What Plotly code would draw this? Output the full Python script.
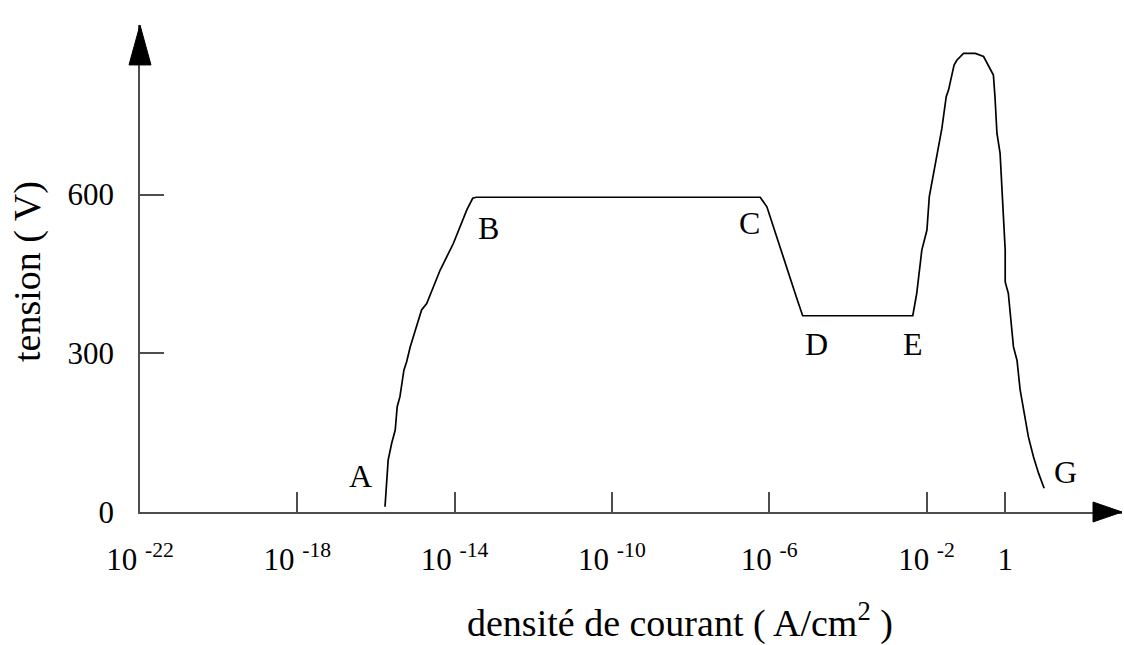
import plotly.graph_objects as go

# Current density (log10 of A/cm^2) and voltage (V) along the characteristic A-B-C-D-E-F-G
log_j = [
    -15.77, -15.74, -15.69, -15.60, -15.51, -15.46, -15.39, -15.29, -15.22, -15.13,
    -15.01, -14.84, -14.71, -14.37, -14.03, -13.86, -13.69, -13.54, -13.45,
    -6.23, -6.06, -5.30, -5.15,
    -2.35, -2.25, -2.12, -1.99, -1.93, -1.82, -1.72, -1.61, -1.50, -1.44,
    -1.30, -1.23, -1.06, -0.76, -0.55, -0.43, -0.30, -0.26, -0.21, -0.13,
    -0.09, -0.04, 0.00, 0.00, 0.08, 0.21, 0.30, 0.38, 0.51, 0.59, 0.72, 0.85, 0.99,
]
tension = [
    10, 48, 98, 130, 155, 199, 218, 268, 284, 312,
    341, 382, 394, 457, 508, 539, 571, 593, 595,
    595, 577, 404, 371,
    371, 413, 495, 533, 596, 640, 684, 725, 785, 798,
    845, 854, 867, 867, 861, 845, 826, 785, 716, 678,
    615, 539, 495, 435, 413, 312, 287, 231, 180, 142, 104, 73, 45,
]

# Remarkable points of the characteristic
point_names = ["A", "B", "C", "D", "E", "F", "G"]
point_log_j = [-16.40, -13.15, -6.50, -4.81, -2.34, -0.84, 1.53]
point_tension = [68, 537, 546, 318, 317, 927, 75]

tick_exponents = [-22, -18, -14, -10, -6, -2, 0]
tick_text = ["10 <sup>-22</sup>", "10 <sup>-18</sup>", "10 <sup>-14</sup>",
             "10 <sup>-10</sup>", "10 <sup>-6</sup>", "10 <sup>-2</sup>", "1"]
y_ticks = [0, 300, 600]

SERIF = "Liberation Serif, Times New Roman, serif"
AXIS_GREY = "#4d4d4d"

j_values = [10 ** e for e in log_j]

fig = go.Figure()
fig.add_trace(go.Scatter(
    x=j_values, y=tension, mode="lines",
    line=dict(color="black", width=1.7),
    hoverinfo="skip", showlegend=False,
))

annotations = [
    dict(x=lx, y=ly, xref="x", yref="y", text=name, showarrow=False,
         xanchor="center", yanchor="middle",
         font=dict(family=SERIF, size=32, color="black"))
    for name, lx, ly in zip(point_names, point_log_j, point_tension)
]
annotations += [
    dict(x=0.55, y=-0.2218, xref="paper", yref="paper",
         text="densité de courant ( A/cm<sup>2</sup> )", showarrow=False,
         xanchor="center", yanchor="middle",
         font=dict(family=SERIF, size=38, color="black")),
    dict(x=-0.114, y=0.493, xref="paper", yref="paper",
         text="tension ( V)", showarrow=False, textangle=-90,
         xanchor="center", yanchor="middle",
         font=dict(family=SERIF, size=38, color="black")),
]

# Arrow heads at the ends of both axes
shapes = [
    dict(type="path", xref="paper", yref="paper",
         path="M -0.0112,0.918 L 0,1 L 0.0112,0.918 Z",
         fillcolor="black", line=dict(color="black", width=1)),
    dict(type="path", xref="paper", yref="paper",
         path="M 0.9705,0.0205 L 1,0 L 0.9705,-0.0205 Z",
         fillcolor="black", line=dict(color="black", width=1)),
]

fig.update_layout(
    width=1124, height=645,
    margin=dict(l=140, r=2, t=25, b=133),
    paper_bgcolor="white", plot_bgcolor="white",
    annotations=annotations, shapes=shapes,
    showlegend=False,
)
fig.update_xaxes(
    type="log", range=[-22, 2.97],
    tickvals=[10 ** e for e in tick_exponents], ticktext=tick_text,
    ticks="inside", ticklen=20, tickwidth=1.5, tickcolor=AXIS_GREY,
    showline=True, linecolor=AXIS_GREY, linewidth=1.6,
    showgrid=False, zeroline=False,
    tickfont=dict(family=SERIF, size=31, color="black"),
    ticklabelstandoff=19,
)
fig.update_yaxes(
    range=[0, 920.6],
    tickvals=y_ticks, ticktext=[str(v) for v in y_ticks],
    ticks="inside", ticklen=24, tickwidth=1.5, tickcolor=AXIS_GREY,
    showline=True, linecolor=AXIS_GREY, linewidth=1.6,
    showgrid=False, zeroline=False,
    tickfont=dict(family=SERIF, size=31, color="black"),
    ticklabelstandoff=18,
)

fig.write_html("out.html")
